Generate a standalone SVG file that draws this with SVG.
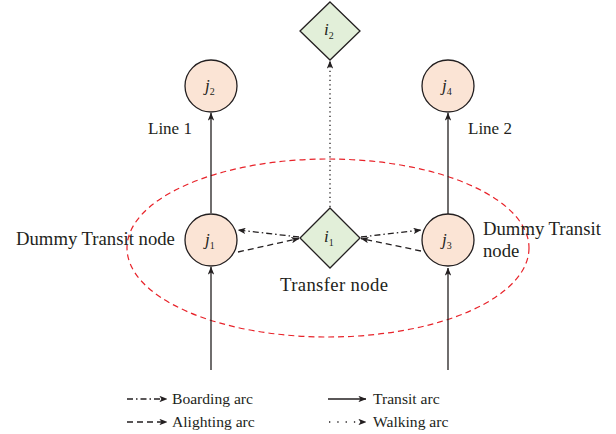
<svg xmlns="http://www.w3.org/2000/svg" width="616" height="434" viewBox="0 0 616 434">
<style>
text{font-family:"Liberation Serif","Times New Roman",serif;fill:#231f20}
.lbl{font-size:18.7px}
.ln1{font-size:17px}
.leg{font-size:15.6px}
.nl{font-size:17px;font-style:italic}
.sub{font-size:10px;font-style:normal}
.circ{fill:#fbe4d5;stroke:#231f20;stroke-width:1.3}
.dia{fill:#e2efd9;stroke:#231f20;stroke-width:1.3}
.ln{stroke:#231f20;stroke-width:1.3;fill:none}
.transit{marker-end:url(#ah)}
.board{stroke-dasharray:6 3 1.5 3;marker-end:url(#ah)}
.alight{stroke-dasharray:6 4;marker-end:url(#ah)}
.walk{stroke-dasharray:1.3 3.2;marker-end:url(#ah)}
.walkleg{stroke-dasharray:1.3 7;marker-end:url(#ah)}
</style>
<defs>
<marker id="ah" viewBox="0 0 10 8" refX="9.5" refY="4" markerWidth="8" markerHeight="6.4" markerUnits="userSpaceOnUse" orient="auto">
<path d="M0,0 L10,4 L0,8 L2.5,4 z" fill="#231f20"/>
</marker>
</defs>
<ellipse cx="328" cy="248" rx="201" ry="89" fill="none" stroke="#e8232a" stroke-width="1.2" stroke-dasharray="6 4"/>
<g id="connectors">
<line class="ln transit" x1="211" y1="370" x2="211" y2="267"/>
<line class="ln transit" x1="211" y1="213" x2="211" y2="113"/>
<line class="ln transit" x1="448" y1="370" x2="448" y2="268"/>
<line class="ln transit" x1="448" y1="214" x2="448" y2="113"/>
<line class="ln walk" x1="330" y1="207" x2="330" y2="61"/>
<line class="ln board" x1="299" y1="237" x2="238" y2="230"/>
<line class="ln alight" x1="238" y1="252" x2="299" y2="238.5"/>
<line class="ln board" x1="361" y1="237" x2="421" y2="230"/>
<line class="ln alight" x1="421" y1="251" x2="361" y2="238.5"/>
</g>
<g id="j2"><circle class="circ" cx="211" cy="86" r="26"/><text class="nl" x="205" y="91">j<tspan class="sub" dy="4">2</tspan></text></g>
<g id="j4"><circle class="circ" cx="448" cy="86" r="26"/><text class="nl" x="442" y="91">j<tspan class="sub" dy="4">4</tspan></text></g>
<g id="j1"><circle class="circ" cx="211" cy="240" r="26"/><text class="nl" x="205" y="245">j<tspan class="sub" dy="4">1</tspan></text></g>
<g id="j3"><circle class="circ" cx="448" cy="240" r="26"/><text class="nl" x="442" y="245">j<tspan class="sub" dy="4">3</tspan></text></g>
<g id="i1"><polygon class="dia" points="330,208 360,238 330,268 300,238"/><text class="nl" x="324" y="242">i<tspan class="sub" dy="4">1</tspan></text></g>
<g id="i2"><polygon class="dia" points="330,2 360,31 330,60 300,31"/><text class="nl" x="324" y="35">i<tspan class="sub" dy="4">2</tspan></text></g>
<g id="labels">
<text class="ln1" x="148" y="134">Line 1</text>
<text class="ln1" x="468" y="134">Line 2</text>
<text class="lbl" x="16" y="245">Dummy Transit node</text>
<text class="lbl" x="483" y="235">Dummy Transit</text>
<text class="lbl" x="483" y="257">node</text>
<text class="lbl" x="280" y="291" textLength="108">Transfer node</text>
</g>
<g id="legend">
<line class="ln board" x1="127" y1="399" x2="167" y2="399"/>
<text class="leg" x="172" y="404">Boarding arc</text>
<line class="ln alight" x1="127" y1="422" x2="167" y2="422"/>
<text class="leg" x="172" y="427">Alighting arc</text>
<line class="ln transit" x1="328" y1="399" x2="366" y2="399"/>
<text class="leg" x="373" y="404">Transit arc</text>
<line class="ln walkleg" x1="329" y1="422" x2="366" y2="422"/>
<text class="leg" x="373" y="427">Walking arc</text>
</g>
</svg>
